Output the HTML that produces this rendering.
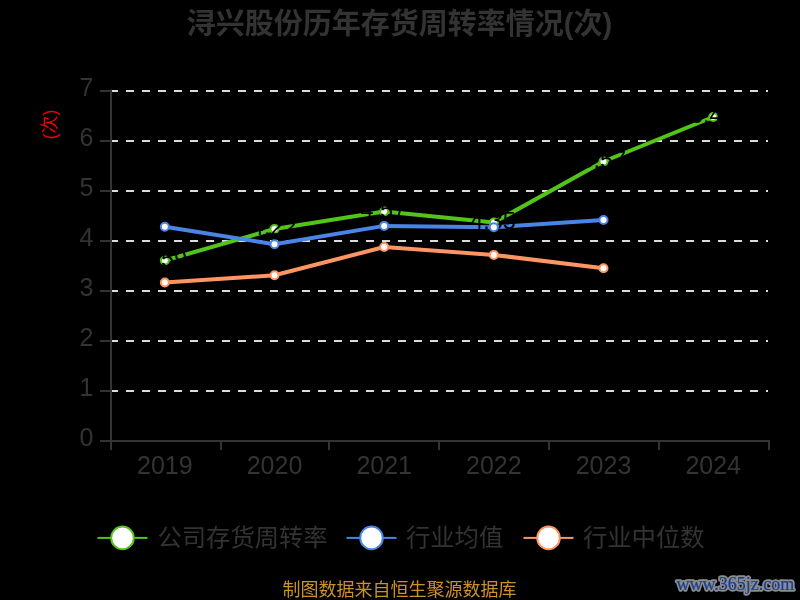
<!DOCTYPE html>
<html lang="zh"><head><meta charset="utf-8"><title>浔兴股份历年存货周转率情况(次)</title>
<style>html,body{margin:0;padding:0;background:#000;}body{width:800px;height:600px;overflow:hidden;font-family:"Liberation Sans",sans-serif;}svg{display:block}text{font-family:"Liberation Sans","Noto Sans CJK SC",sans-serif;-webkit-font-smoothing:antialiased}svg{will-change:transform}.wm{font-family:"Liberation Serif",serif}</style></head><body>
<svg width="800" height="600" viewBox="0 0 800 600">
<rect width="800" height="600" fill="#000"/>
<text x="399.5" y="34" font-size="29" font-weight="bold" text-anchor="middle" fill="#333333">浔兴股份历年存货周转率情况(次)</text>
<g transform="translate(49 124.5) rotate(-90)"><text x="0" y="6.5" font-size="18" text-anchor="middle" fill="#f50000">(次)</text></g>
<line x1="110" y1="441" x2="768" y2="441" stroke="#dcdcdc" stroke-width="2" stroke-dasharray="8 8"/>
<line x1="110" y1="391" x2="768" y2="391" stroke="#dcdcdc" stroke-width="2" stroke-dasharray="8 8"/>
<line x1="110" y1="341" x2="768" y2="341" stroke="#dcdcdc" stroke-width="2" stroke-dasharray="8 8"/>
<line x1="110" y1="291" x2="768" y2="291" stroke="#dcdcdc" stroke-width="2" stroke-dasharray="8 8"/>
<line x1="110" y1="241" x2="768" y2="241" stroke="#dcdcdc" stroke-width="2" stroke-dasharray="8 8"/>
<line x1="110" y1="191" x2="768" y2="191" stroke="#dcdcdc" stroke-width="2" stroke-dasharray="8 8"/>
<line x1="110" y1="141" x2="768" y2="141" stroke="#dcdcdc" stroke-width="2" stroke-dasharray="8 8"/>
<line x1="110" y1="91" x2="768" y2="91" stroke="#dcdcdc" stroke-width="2" stroke-dasharray="8 8"/>
<rect x="110" y="89.500" width="2" height="360.500" fill="#333333"/>
<rect x="110" y="440" width="660" height="2" fill="#333333"/>
<rect x="100" y="440" width="11" height="2" fill="#333333"/>
<rect x="100" y="390" width="11" height="2" fill="#333333"/>
<rect x="100" y="340" width="11" height="2" fill="#333333"/>
<rect x="100" y="290" width="11" height="2" fill="#333333"/>
<rect x="100" y="240" width="11" height="2" fill="#333333"/>
<rect x="100" y="190" width="11" height="2" fill="#333333"/>
<rect x="100" y="140" width="11" height="2" fill="#333333"/>
<rect x="100" y="90" width="11" height="2" fill="#333333"/>
<rect x="220" y="440" width="2" height="10" fill="#333333"/>
<rect x="328" y="440" width="2" height="10" fill="#333333"/>
<rect x="438" y="440" width="2" height="10" fill="#333333"/>
<rect x="548" y="440" width="2" height="10" fill="#333333"/>
<rect x="658" y="440" width="2" height="10" fill="#333333"/>
<rect x="768" y="440" width="2" height="10" fill="#333333"/>
<text x="93.500" y="445.900" font-size="25" text-anchor="end" fill="#333333">0</text>
<text x="93.500" y="395.900" font-size="25" text-anchor="end" fill="#333333">1</text>
<text x="93.500" y="345.900" font-size="25" text-anchor="end" fill="#333333">2</text>
<text x="93.500" y="295.900" font-size="25" text-anchor="end" fill="#333333">3</text>
<text x="93.500" y="245.900" font-size="25" text-anchor="end" fill="#333333">4</text>
<text x="93.500" y="195.900" font-size="25" text-anchor="end" fill="#333333">5</text>
<text x="93.500" y="145.900" font-size="25" text-anchor="end" fill="#333333">6</text>
<text x="93.500" y="95.900" font-size="25" text-anchor="end" fill="#333333">7</text>
<text x="164.800" y="474" font-size="25" text-anchor="middle" fill="#333333">2019</text>
<text x="274.500" y="474" font-size="25" text-anchor="middle" fill="#333333">2020</text>
<text x="384.200" y="474" font-size="25" text-anchor="middle" fill="#333333">2021</text>
<text x="493.800" y="474" font-size="25" text-anchor="middle" fill="#333333">2022</text>
<text x="603.500" y="474" font-size="25" text-anchor="middle" fill="#333333">2023</text>
<text x="713.200" y="474" font-size="25" text-anchor="middle" fill="#333333">2024</text>
<polyline points="164.830,260.500 274.500,229 384.170,211.500 493.830,222.500 603.500,161.500 713.170,117" fill="none" stroke="#52c41a" stroke-width="4" stroke-linejoin="bevel" stroke-linecap="butt"/>
<polyline points="164.830,226.800 274.500,244.300 384.170,225.900 493.830,227.300 603.500,220" fill="none" stroke="#4a84e6" stroke-width="4" stroke-linejoin="bevel" stroke-linecap="butt"/>
<polyline points="164.830,282.500 274.500,275.300 384.170,247 493.830,254.900 603.500,268.250" fill="none" stroke="#ff9562" stroke-width="4" stroke-linejoin="bevel" stroke-linecap="butt"/>
<circle cx="164.830" cy="260.500" r="4" fill="#fff" stroke="#52c41a" stroke-width="2"/>
<text x="164.300" y="266.700" font-size="23.500" text-anchor="middle" fill="#000">3.59</text>
<circle cx="274.500" cy="229" r="4" fill="#fff" stroke="#52c41a" stroke-width="2"/>
<text x="273.700" y="235.200" font-size="23.500" text-anchor="middle" fill="#000">4.22</text>
<circle cx="384.170" cy="211.500" r="4" fill="#fff" stroke="#52c41a" stroke-width="2"/>
<text x="383.400" y="217.700" font-size="23.500" text-anchor="middle" fill="#000">4.57</text>
<circle cx="493.830" cy="222.500" r="4" fill="#fff" stroke="#52c41a" stroke-width="2"/>
<text x="493" y="228.700" font-size="23.500" text-anchor="middle" fill="#000">4.35</text>
<circle cx="603.500" cy="161.500" r="4" fill="#fff" stroke="#52c41a" stroke-width="2"/>
<text x="603.300" y="167.700" font-size="23.500" text-anchor="middle" fill="#000">5.57</text>
<circle cx="713.170" cy="117" r="4" fill="#fff" stroke="#52c41a" stroke-width="2"/>
<text x="712.900" y="123.200" font-size="23.500" text-anchor="middle" fill="#000">6.46</text>
<circle cx="164.830" cy="226.800" r="4" fill="#fff" stroke="#4a84e6" stroke-width="2"/>
<circle cx="274.500" cy="244.300" r="4" fill="#fff" stroke="#4a84e6" stroke-width="2"/>
<circle cx="384.170" cy="225.900" r="4" fill="#fff" stroke="#4a84e6" stroke-width="2"/>
<circle cx="493.830" cy="227.300" r="4" fill="#fff" stroke="#4a84e6" stroke-width="2"/>
<circle cx="603.500" cy="220" r="4" fill="#fff" stroke="#4a84e6" stroke-width="2"/>
<circle cx="164.830" cy="282.500" r="4" fill="#fff" stroke="#ff9562" stroke-width="2"/>
<circle cx="274.500" cy="275.300" r="4" fill="#fff" stroke="#ff9562" stroke-width="2"/>
<circle cx="384.170" cy="247" r="4" fill="#fff" stroke="#ff9562" stroke-width="2"/>
<circle cx="493.830" cy="254.900" r="4" fill="#fff" stroke="#ff9562" stroke-width="2"/>
<circle cx="603.500" cy="268.250" r="4" fill="#fff" stroke="#ff9562" stroke-width="2"/>
<rect x="97.500" y="536.900" width="50" height="2" fill="#52c41a"/>
<circle cx="122.500" cy="537.900" r="11.300" fill="#fff" stroke="#52c41a" stroke-width="2"/>
<text x="157.500" y="545.500" font-size="24.300" fill="#333333">公司存货周转率</text>
<rect x="346.500" y="536.900" width="50" height="2" fill="#4a84e6"/>
<circle cx="371.500" cy="537.900" r="11.300" fill="#fff" stroke="#4a84e6" stroke-width="2"/>
<text x="406" y="545.500" font-size="24.300" fill="#333333">行业均值</text>
<rect x="523.500" y="536.900" width="50" height="2" fill="#ff9562"/>
<circle cx="548.500" cy="537.900" r="11.300" fill="#fff" stroke="#ff9562" stroke-width="2"/>
<text x="583" y="545.500" font-size="24.300" fill="#333333">行业中位数</text>
<text x="399.500" y="596" font-size="18" text-anchor="middle" fill="#cc9129">制图数据来自恒生聚源数据库</text>
<defs><filter id="wmb" x="-5%" y="-30%" width="110%" height="160%"><feGaussianBlur stdDeviation="0.55"/></filter></defs>
<text class="wm" x="735.400" y="590" font-size="18" text-anchor="middle" fill="#8c8c8c" stroke="#8c8c8c" stroke-width="3.600" stroke-linejoin="round" filter="url(#wmb)" aria-hidden="true" style="font-family:&quot;Liberation Serif&quot;,serif">www.365jz.com</text>
<text class="wm" x="735.400" y="590" font-size="18" text-anchor="middle" fill="#163f8e" stroke="#163f8e" stroke-width="0.200" style="font-family:&quot;Liberation Serif&quot;,serif">www.365jz.com</text>
</svg></body></html>
